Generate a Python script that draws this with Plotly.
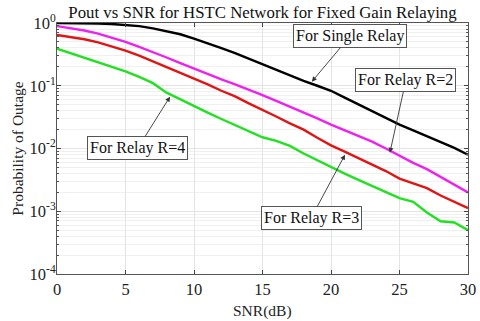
import plotly.graph_objects as go

snr = list(range(0, 31))

single_relay = [1.0, 1.0, 0.993, 0.982, 0.966, 0.933, 0.891, 0.822, 0.741, 0.661,
                0.562, 0.479, 0.398, 0.331, 0.269, 0.219, 0.178, 0.145, 0.120, 0.100,
                0.0832, 0.0646, 0.0501, 0.0398, 0.0309, 0.0240, 0.0195, 0.0158, 0.0126, 0.0102,
                0.00794]
relay_r2 = [0.891, 0.832, 0.759, 0.676, 0.589, 0.501, 0.417, 0.347, 0.282, 0.229,
            0.186, 0.151, 0.126, 0.105, 0.0871, 0.0708, 0.0575, 0.0468, 0.0380, 0.0302,
            0.0240, 0.0195, 0.0158, 0.0129, 0.0100, 0.00759, 0.00589, 0.00468, 0.00355, 0.00263,
            0.00200]
relay_r3 = [0.646, 0.603, 0.550, 0.490, 0.427, 0.363, 0.302, 0.245, 0.200, 0.158,
            0.129, 0.105, 0.0832, 0.0676, 0.0525, 0.0417, 0.0324, 0.0251, 0.0200, 0.0148,
            0.0112, 0.00891, 0.00708, 0.00550, 0.00437, 0.00331, 0.00282, 0.00234, 0.00178, 0.00141,
            0.00112]
relay_r4 = [0.389, 0.331, 0.282, 0.240, 0.204, 0.170, 0.138, 0.110, 0.0776, 0.0603,
            0.0468, 0.0372, 0.0295, 0.0234, 0.0186, 0.0151, 0.0132, 0.0110, 0.00832, 0.00646,
            0.00513, 0.00398, 0.00316, 0.00251, 0.00200, 0.00162, 0.00141, 0.000955, 0.000692, 0.000661,
            0.000501]

series = [
    ("For Single Relay", single_relay, "#000000"),
    ("For Relay R=2", relay_r2, "#ee22ee"),
    ("For Relay R=3", relay_r3, "#e01515"),
    ("For Relay R=4", relay_r4, "#22e022"),
]

y_tickvals = [1e-4, 1e-3, 1e-2, 1e-1, 1]
y_ticktext = ["10<sup>-4</sup>", "10<sup>-3</sup>", "10<sup>-2</sup>", "10<sup>-1</sup>", "10<sup>0</sup>"]
x_tickvals = [0, 5, 10, 15, 20, 25, 30]

# annotations: label, tip (x, log10 y), box centre (x, log10 y)
labels = [
    ("For Single Relay", 18.6, -0.935, 21.4, -0.207),
    ("For Relay R=2", 24.3, -2.067, 25.47, -0.908),
    ("For Relay R=4", 8.25, -1.174, 5.91, -1.99),
    ("For Relay R=3", 21.02, -2.10, 18.54, -3.11),
]

font_family = "Liberation Serif, Times New Roman, serif"

fig = go.Figure()
for name, vals, color in series:
    fig.add_trace(go.Scatter(x=snr, y=vals, mode="lines", name=name,
                             line=dict(color=color, width=2.4)))

for text, tx, ty, bx, by in labels:
    fig.add_annotation(x=tx, y=ty, xref="x", yref="y", ax=bx, ay=by, axref="x", ayref="y",
                       text=text, showarrow=True, arrowhead=2, arrowsize=1.1, arrowwidth=0.9,
                       arrowcolor="#333333", bgcolor="white", bordercolor="#555555",
                       borderwidth=1, borderpad=2,
                       font=dict(family=font_family, size=16, color="#111111"))

# x-axis title as a paper-positioned text
fig.add_annotation(text="SNR(dB)", xref="paper", yref="paper", x=0.5, y=(274 - 311) / 251,
                   xanchor="center", yanchor="middle", showarrow=False,
                   font=dict(family=font_family, size=15.5, color="#222222"))

fig.update_layout(
    width=480, height=321,
    margin=dict(l=57, r=12, t=23, b=47),
    paper_bgcolor="white", plot_bgcolor="white",
    showlegend=False,
    title=dict(text="Pout vs SNR for HSTC Network for Fixed Gain Relaying",
               x=(57 + 468) / 2 / 480, xanchor="center", y=1 - 12 / 321, yanchor="middle",
               font=dict(family=font_family, size=16.8, color="#111111")),
    font=dict(family=font_family, size=16.5, color="#222222"),
)
fig.update_xaxes(range=[0, 30], tickvals=x_tickvals, ticks="inside", ticklen=4,
                 showline=True, linecolor="#555555", linewidth=1, mirror="ticks",
                 showgrid=True, gridcolor="#e4e4e4", zeroline=False, automargin=False)
fig.update_yaxes(type="log", range=[-4, 0], tickvals=y_tickvals, ticktext=y_ticktext,
                 ticks="inside", ticklen=4, ticklabelstandoff=-3,
                 showline=True, linecolor="#555555", linewidth=1, mirror="ticks",
                 showgrid=True, gridcolor="#e4e4e4", zeroline=False, automargin=False,
                 minor=dict(dtick="D1", showgrid=True, gridcolor="#f0f0f0",
                            ticks="inside", ticklen=2, tickcolor="#555555"),
                 title=dict(text="Probability of Outage", standoff=2, font=dict(size=15.5)))

fig.write_html("out.html", config={"displayModeBar": False},
               post_script="document.body.style.margin='0';document.body.style.overflow='hidden';")
